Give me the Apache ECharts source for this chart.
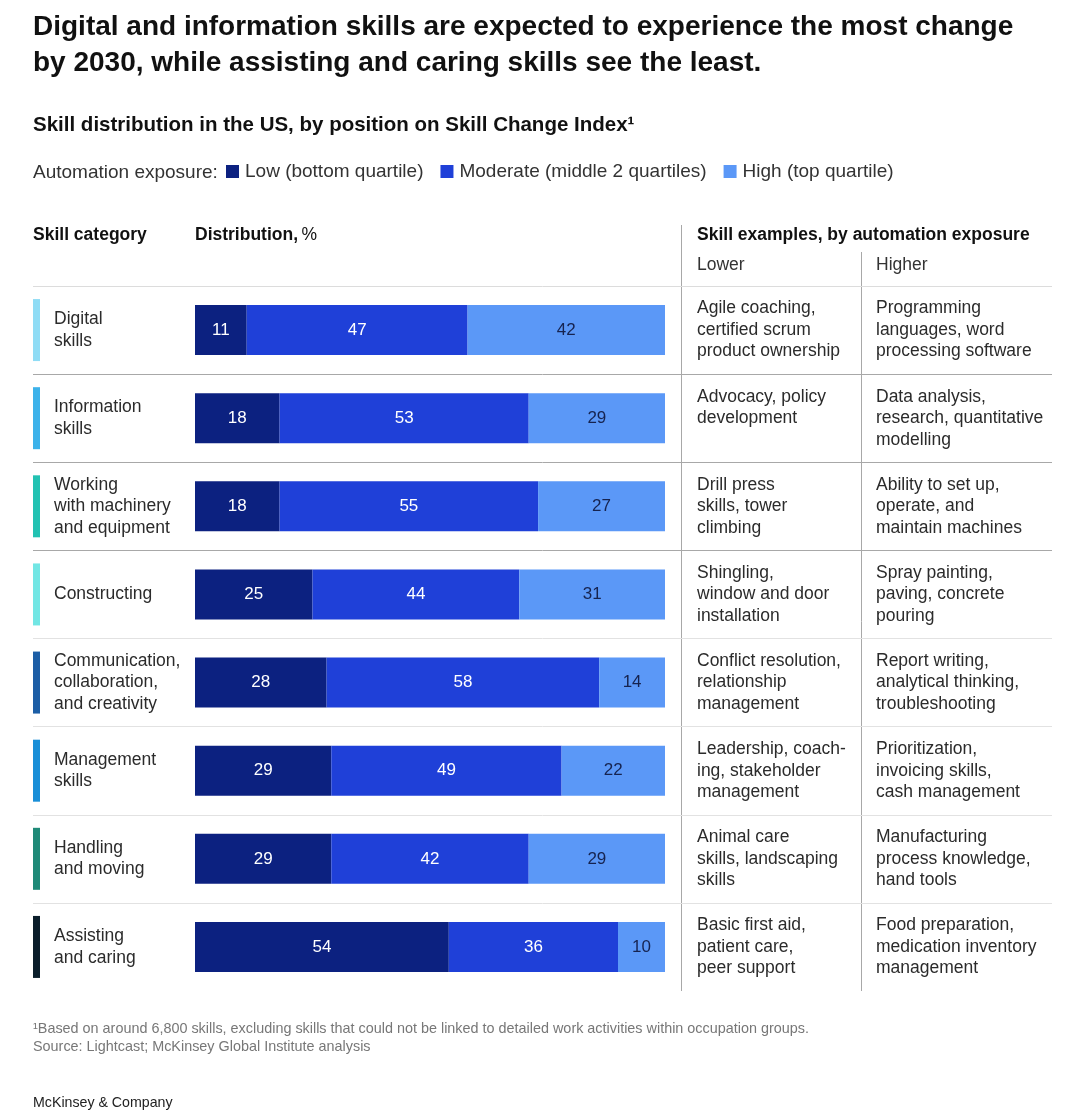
<!DOCTYPE html>
<html>
<head>
<meta charset="utf-8">
<script src="https://cdn.jsdelivr.net/npm/echarts@6/dist/echarts.min.js"></script>
<style>
html,body{margin:0;padding:0;background:#fff;}
#main{width:1080px;height:1110px;}
</style>
</head>
<body>
<div id="main"></div>
<script>
const categories = ["Digital\nskills", "Information\nskills", "Working\nwith machinery\nand equipment", "Constructing", "Communication,\ncollaboration,\nand creativity", "Management\nskills", "Handling\nand moving", "Assisting\nand caring"];
const lowExposure = [11, 18, 18, 25, 28, 29, 29, 54];
const moderateExposure = [47, 53, 55, 44, 58, 49, 42, 36];
const highExposure = [42, 29, 27, 31, 14, 22, 29, 10];
const lowerExamples = ["Agile coaching,\ncertified scrum\nproduct ownership", "Advocacy, policy\ndevelopment", "Drill press\nskills, tower\nclimbing", "Shingling,\nwindow and door\ninstallation", "Conflict resolution,\nrelationship\nmanagement", "Leadership, coach-\ning, stakeholder\nmanagement", "Animal care\nskills, landscaping\nskills", "Basic first aid,\npatient care,\npeer support"];
const higherExamples = ["Programming\nlanguages, word\nprocessing software", "Data analysis,\nresearch, quantitative\nmodelling", "Ability to set up,\noperate, and\nmaintain machines", "Spray painting,\npaving, concrete\npouring", "Report writing,\nanalytical thinking,\ntroubleshooting", "Prioritization,\ninvoicing skills,\ncash management", "Manufacturing\nprocess knowledge,\nhand tools", "Food preparation,\nmedication inventory\nmanagement"];
const seriesNames = ["Low (bottom quartile)", "Moderate (middle 2 quartiles)", "High (top quartile)"];
const accentMarker = [1, 1, 1, 1, 1, 1, 1, 1];

// styles
const accentColors = ["#8fdcf5", "#3cb2ea", "#22c2b2", "#72e6e4", "#1c5ea6", "#1a8fd8", "#1f8a78", "#0b1e2b"];
const barColors = ["#0c2180", "#1f40d8", "#5b98f7"];
const FONT = "Liberation Sans, Arial, sans-serif";

const chart = echarts.init(document.getElementById('main'), null, {renderer: 'canvas'});

const GRID_TOP = 286, GRID_H = 705;

function pad3(s) {
  const n = s.split('\n').length;
  let out = s;
  for (let i = n; i < 3; i++) out += '\n ';
  return out;
}

const sepColors = ["#dcdcdc", "#a8a8a8", "#a8a8a8", "#a8a8a8", "#e2e2e2", "#e2e2e2", "#e2e2e2", "#e2e2e2", "rgba(0,0,0,0)"];

const option = {
  backgroundColor: '#fff',
  animation: false,
  textStyle: {fontFamily: FONT},
  legend: {
    left: 221, top: 157,
    itemWidth: 13, itemHeight: 13, itemGap: 17,
    icon: 'rect',
    data: seriesNames,
    textStyle: {fontSize: 19, color: '#333', fontFamily: FONT, padding: [0, 0, 0, 1]}
  },
  grid: [
    {left: 33, width: 1019, top: GRID_TOP, height: GRID_H},
    {left: 195, width: 470, top: GRID_TOP, height: GRID_H},
    {left: 33, width: 7, top: GRID_TOP, height: GRID_H}
  ],
  xAxis: [
    {gridIndex: 0, type: 'value', show: false, min: 0, max: 1},
    {gridIndex: 1, type: 'value', show: false, min: 0, max: 100},
    {gridIndex: 2, type: 'value', show: false, min: 0, max: 1}
  ],
  yAxis: [
    {gridIndex: 0, type: 'category', inverse: true, data: categories,
     axisLine: {show: false}, axisTick: {show: false}, axisLabel: {show: false},
     splitLine: {show: true, interval: 0, lineStyle: {color: sepColors, width: 1}}},
    {gridIndex: 1, type: 'category', inverse: true, data: categories,
     axisLine: {show: false}, axisTick: {show: false},
     axisLabel: {align: 'left', margin: 141, fontSize: 17.5, lineHeight: 21.5, color: '#2b2b2b', fontFamily: FONT}},
    {gridIndex: 1, type: 'category', inverse: true, position: 'right', data: lowerExamples,
     axisLine: {show: false}, axisTick: {show: false},
     axisLabel: {align: 'left', margin: 32, fontSize: 17.5, lineHeight: 21.5, color: '#2b2b2b', fontFamily: FONT, formatter: v => pad3(v)}},
    {gridIndex: 1, type: 'category', inverse: true, position: 'right', offset: 179, data: higherExamples,
     axisLine: {show: false}, axisTick: {show: false},
     axisLabel: {align: 'left', margin: 32, fontSize: 17.5, lineHeight: 21.5, color: '#2b2b2b', fontFamily: FONT, formatter: v => pad3(v)}},
    {gridIndex: 2, type: 'category', inverse: true, data: categories, show: false}
  ],
  series: [
    {name: seriesNames[0], type: 'bar', stack: 'dist', xAxisIndex: 1, yAxisIndex: 1, data: lowExposure, barWidth: 50,
     itemStyle: {color: barColors[0]},
     label: {show: true, position: 'inside', color: '#fff', fontSize: 17, fontFamily: FONT}},
    {name: seriesNames[1], type: 'bar', stack: 'dist', xAxisIndex: 1, yAxisIndex: 1, data: moderateExposure, barWidth: 50,
     itemStyle: {color: barColors[1]},
     label: {show: true, position: 'inside', color: '#fff', fontSize: 17, fontFamily: FONT}},
    {name: seriesNames[2], type: 'bar', stack: 'dist', xAxisIndex: 1, yAxisIndex: 1, data: highExposure, barWidth: 50,
     itemStyle: {color: barColors[2]},
     label: {show: true, position: 'inside', color: '#16234f', fontSize: 17, fontFamily: FONT}},
    {name: 'accent', type: 'bar', xAxisIndex: 2, yAxisIndex: 4, barWidth: 62, silent: true,
     data: accentMarker.map((v, i) => ({value: v, itemStyle: {color: accentColors[i]}}))}
  ],
  graphic: [
    {type: 'text', left: 33, top: 9, style: {text: 'Digital and information skills are expected to experience the most change\nby 2030, while assisting and caring skills see the least.', font: 'bold 28px ' + FONT, lineHeight: 36, fill: '#111'}},
    {type: 'text', left: 33, top: 115, style: {text: 'Skill distribution in the US, by position on Skill Change Index\u00b9', font: 'bold 20.5px ' + FONT, fill: '#111'}},
    {type: 'text', left: 33, top: 163, style: {text: 'Automation exposure:', font: '19px ' + FONT, fill: '#333'}},
    {type: 'text', left: 33, top: 226, style: {text: 'Skill category', font: 'bold 17.5px ' + FONT, fill: '#111'}},
    {type: 'text', left: 195, top: 226, style: {text: '{b|Distribution,} {r|%}', rich: {b: {font: 'bold 17.5px ' + FONT, fill: '#111'}, r: {font: '17.5px ' + FONT, fill: '#111'}}}},
    {type: 'text', left: 697, top: 226, style: {text: 'Skill examples, by automation exposure', font: 'bold 17.5px ' + FONT, fill: '#111'}},
    {type: 'text', left: 697, top: 256, style: {text: 'Lower', font: '17.5px ' + FONT, fill: '#333'}},
    {type: 'text', left: 876, top: 256, style: {text: 'Higher', font: '17.5px ' + FONT, fill: '#333'}},
    {type: 'line', shape: {x1: 681.5, y1: 225, x2: 681.5, y2: 991}, style: {stroke: '#a8a8a8', lineWidth: 1}},
    {type: 'line', shape: {x1: 861.5, y1: 252, x2: 861.5, y2: 991}, style: {stroke: '#a8a8a8', lineWidth: 1}},
    {type: 'text', left: 33, top: 1020, style: {text: '\u00b9Based on around 6,800 skills, excluding skills that could not be linked to detailed work activities within occupation groups.\nSource: Lightcast; McKinsey Global Institute analysis', font: '14.4px ' + FONT, lineHeight: 18, fill: '#777'}},
    {type: 'text', left: 33, top: 1096, style: {text: 'McKinsey & Company', font: '14.2px ' + FONT, fill: '#222'}}
  ]
};
chart.setOption(option);
</script>
</body>
</html>
